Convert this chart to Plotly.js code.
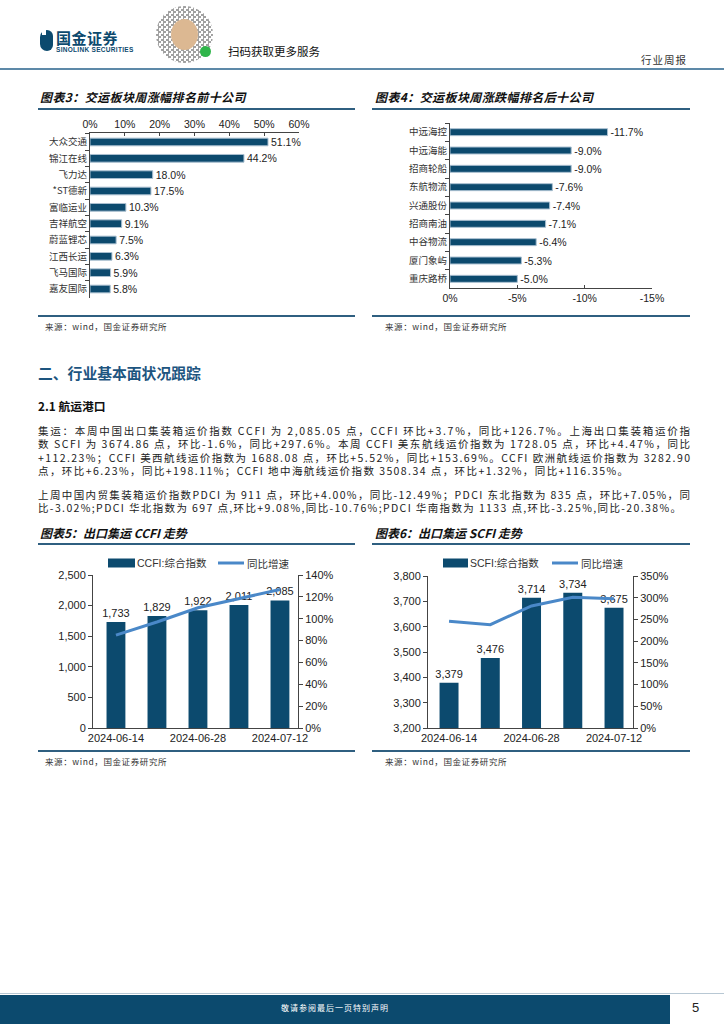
<!DOCTYPE html>
<html lang="zh"><head><meta charset="utf-8">
<script src="https://cdn.plot.ly/plotly-3.0.1.min.js"></script>
<style>
body{margin:0;width:724px;height:1024px;position:relative;background:#fff;font-family:"Noto Sans CJK SC",sans-serif;overflow:hidden;color:#222}
.a{position:absolute;white-space:nowrap}
.ttl{font-size:12px;font-weight:bold;font-style:italic;line-height:14px;color:#111}
.rule{height:1.5px;background:#2f5f80}
.src{font-size:8.5px;color:#333;letter-spacing:0.6px;line-height:10px}
.ln{font-size:10.5px;line-height:13px;left:38px;color:#222}
</style></head><body>

<!-- header -->
<div class="a" style="left:40px;top:30px;width:13px;height:21px;background:#0c4a6e;border-radius:7px 6px 6px 7px"></div>
<div class="a" style="left:42px;top:30px;width:4px;height:5px;background:#fff"></div>
<div class="a" style="left:56px;top:29px;font-size:15px;font-weight:bold;color:#0c4a6e;line-height:18px;letter-spacing:0.5px">国金证券</div>
<div class="a" style="left:56px;top:46px;font-size:6.5px;font-weight:bold;color:#0c4a6e;line-height:8px;font-family:'Liberation Sans';letter-spacing:0.3px">SINOLINK SECURITIES</div>
<div class="a" style="left:156px;top:6px;width:57px;height:57px;border-radius:50%;background:repeating-conic-gradient(#555 0 25%,#fff 0 50%) 0 0/5px 5px;opacity:0.55"></div>
<div class="a" style="left:171px;top:19px;width:27px;height:31px;border-radius:50%;background:#dcb892"></div>
<div class="a" style="left:200px;top:46px;width:11px;height:11px;border-radius:50%;background:#2fb54a"></div>
<div class="a" style="left:228px;top:44px;font-size:11.5px;line-height:14px;color:#111">扫码获取更多服务</div>
<div class="a" style="left:641px;top:53px;font-size:10.5px;line-height:13px;color:#333;letter-spacing:1px">行业周报</div>
<div class="a" style="left:0;top:68px;width:724px;height:1.5px;background:#5d89a8"></div>

<!-- chart 3/4 titles -->
<div class="a ttl" style="left:40px;top:90px;letter-spacing:0.4px">图表3：交运板块周涨幅排名前十公司</div>
<div class="a rule" style="left:38px;top:108px;width:317px"></div>
<div class="a ttl" style="left:375px;top:90px;letter-spacing:0.4px">图表4：交运板块周涨跌幅排名后十公司</div>
<div class="a rule" style="left:372px;top:108px;width:318px"></div>
<div id="c3" class="a" style="left:30px;top:110px"></div>
<div id="c4" class="a" style="left:370px;top:110px"></div>
<div class="a rule" style="left:38px;top:315px;width:317px"></div>
<div class="a rule" style="left:372px;top:315px;width:318px"></div>
<div class="a src" style="left:45px;top:321px">来源：wind，国金证券研究所</div>
<div class="a src" style="left:385px;top:321px">来源：wind，国金证券研究所</div>

<!-- section text -->
<div class="a" style="left:38px;top:364px;font-size:14.8px;font-weight:bold;color:#1d557f;line-height:18px">二、行业基本面状况跟踪</div>
<div class="a" style="left:38px;top:398px;font-size:11.8px;font-weight:bold;color:#111;line-height:16px">2.1 航运港口</div>
<div class="a ln" data-w="652" style="top:423.5px">集运：本周中国出口集装箱运价指数 CCFI 为 2,085.05 点，CCFI 环比+3.7%，同比+126.7%。上海出口集装箱运价指</div>
<div class="a ln" data-w="652" style="top:437px">数 SCFI 为 3674.86 点，环比-1.6%，同比+297.6%。本周 CCFI 美东航线运价指数为 1728.05 点，环比+4.47%，同比</div>
<div class="a ln" data-w="652" style="top:450.5px">+112.23%；CCFI 美西航线运价指数为 1688.08 点，环比+5.52%，同比+153.69%。CCFI 欧洲航线运价指数为 3282.90</div>
<div class="a ln" data-w="590" style="top:464px">点，环比+6.23%，同比+198.11%；CCFI 地中海航线运价指数 3508.34 点，环比+1.32%，同比+116.35%。</div>
<div class="a ln" data-w="652" style="top:487.5px">上周中国内贸集装箱运价指数PDCI 为 911 点，环比+4.00%，同比-12.49%；PDCI 东北指数为 835 点，环比+7.05%，同</div>
<div class="a ln" data-w="643" style="top:501px">比-3.02%;PDCI 华北指数为 697 点,环比+9.08%,同比-10.76%;PDCI 华南指数为 1133 点,环比-3.25%,同比-20.38%。</div>

<!-- chart 5/6 -->
<div class="a ttl" style="left:40px;top:526px">图表5：出口集运 CCFI 走势</div>
<div class="a rule" style="left:38px;top:543px;width:317px"></div>
<div class="a ttl" style="left:375px;top:526px">图表6：出口集运 SCFI 走势</div>
<div class="a rule" style="left:372px;top:543px;width:318px"></div>
<div id="c5" class="a" style="left:30px;top:545px"></div>
<div id="c6" class="a" style="left:370px;top:545px"></div>
<div class="a rule" style="left:38px;top:750px;width:317px"></div>
<div class="a rule" style="left:372px;top:750px;width:318px"></div>
<div class="a src" style="left:45px;top:756px">来源：wind，国金证券研究所</div>
<div class="a src" style="left:385px;top:756px">来源：wind，国金证券研究所</div>

<!-- footer -->
<div class="a" style="left:0;top:993px;width:724px;height:1px;background:#b8c8d4"></div>
<div class="a" style="left:0;top:995px;width:670px;height:29px;background:#0c4a6e"></div>
<div class="a" style="left:0;top:1003px;width:670px;text-align:center;font-size:8px;color:#fff;letter-spacing:1px;line-height:10px">敬请参阅最后一页特别声明</div>
<div class="a" style="left:692px;top:1000px;font-size:13px;color:#222;font-family:'Liberation Sans';line-height:16px">5</div>

<script>
// ---------- data ----------
const topNames = ['大众交通','锦江在线','飞力达','*ST德新','富临运业','吉祥航空','蔚蓝锂芯','江西长运','飞马国际','嘉友国际'];
const topVals = [51.1, 44.2, 18.0, 17.5, 10.3, 9.1, 7.5, 6.3, 5.9, 5.8];
const topTicks = [0, 10, 20, 30, 40, 50, 60];
const botNames = ['中远海控','中远海能','招商轮船','东航物流','兴通股份','招商南油','中谷物流','厦门象屿','重庆路桥'];
const botVals = [-11.7, -9.0, -9.0, -7.6, -7.4, -7.1, -6.4, -5.3, -5.0];
const botTicks = [0, -5, -10, -15];
const dates = ['2024-06-14','2024-06-21','2024-06-28','2024-07-05','2024-07-12'];
const dateTicks = ['2024-06-14','2024-06-28','2024-07-12'];
const ccfi = [1733, 1829, 1922, 2011, 2085];
const ccfiYoy = [0.85, 0.97, 1.10, 1.18, 1.267];
const scfi = [3379, 3476, 3714, 3734, 3675];
const scfiYoy = [2.46, 2.38, 2.81, 3.01, 2.976];
const ccfiTicks = [0, 500, 1000, 1500, 2000, 2500];
const ccfiYoyTicks = [0, 0.2, 0.4, 0.6, 0.8, 1.0, 1.2, 1.4];
const scfiTicks = [3200, 3300, 3400, 3500, 3600, 3700, 3800];
const scfiYoyTicks = [0, 0.5, 1.0, 1.5, 2.0, 2.5, 3.0, 3.5];

// ---------- justify text lines ----------
document.querySelectorAll('.ln').forEach(el => {
  const target = +el.dataset.w;
  const n = el.textContent.length;
  const w = el.getBoundingClientRect().width;
  el.style.letterSpacing = ((target - w) / (n - 1)) + 'px';
});

const BAR = '#0c4a6e', LINE = '#4a88c8', AX = '#444';
const NUMF = 'Liberation Sans, Arial, Noto Sans CJK SC, sans-serif';
const CJK = 'Noto Sans CJK SC, sans-serif';
const cfg = {staticPlot: true, displayModeBar: false};
const pct = v => v.toFixed(1) + '%';
const fmtInt = v => v.toLocaleString('en-US');

// ---------- chart 3 ----------
Plotly.newPlot('c3', [{
  type: 'bar', orientation: 'h', y: topNames, x: topVals,
  marker: {color: BAR, line: {color: '#a9bfd0', width: 1}},
  text: topVals.map(pct), textposition: 'outside', cliponaxis: false, constraintext: 'none',
  textfont: {family: NUMF, size: 10.5, color: '#222'}, hoverinfo: 'none'
}], {
  width: 330, height: 200, margin: {l: 60, r: 61, t: 23, b: 12},
  bargap: 0.53, showlegend: false, paper_bgcolor: 'rgba(0,0,0,0)', plot_bgcolor: 'rgba(0,0,0,0)',
  font: {family: NUMF, size: 10.5, color: '#222'},
  xaxis: {side: 'top', range: [0, 60], tickvals: topTicks, ticktext: topTicks.map(v => v + '%'),
    showline: true, linecolor: AX, ticks: 'inside', ticklen: 3, tickcolor: AX, showgrid: false, zeroline: false},
  yaxis: {type: 'category', range: [9.55, -0.55], showline: true, linecolor: AX, ticks: 'outside',
    tickson: 'boundaries', ticklen: 4, tickcolor: AX, showgrid: false, zeroline: false,
    tickfont: {family: CJK, size: 9.5, color: '#333'}}
}, cfg);

// ---------- chart 4 ----------
Plotly.newPlot('c4', [{
  type: 'bar', orientation: 'h', y: botNames, x: botVals,
  marker: {color: BAR, line: {color: '#a9bfd0', width: 1}},
  text: botVals.map(pct), textposition: 'outside', cliponaxis: false, constraintext: 'none',
  textfont: {family: NUMF, size: 10.5, color: '#222'}, hoverinfo: 'none'
}], {
  width: 330, height: 200, margin: {l: 80, r: 48, t: 13, b: 22},
  bargap: 0.62, showlegend: false, paper_bgcolor: 'rgba(0,0,0,0)', plot_bgcolor: 'rgba(0,0,0,0)',
  font: {family: NUMF, size: 10.5, color: '#222'},
  xaxis: {range: [0, -15], tickvals: botTicks, ticktext: botTicks.map(v => v + '%'),
    showline: true, linecolor: AX, ticks: 'inside', ticklen: 3, tickcolor: AX, showgrid: false, zeroline: false},
  yaxis: {type: 'category', range: [8.5, -0.5], showline: true, linecolor: AX, ticks: 'outside',
    tickson: 'boundaries', ticklen: 4, tickcolor: AX, showgrid: false, zeroline: false,
    tickfont: {family: CJK, size: 9.5, color: '#333'}}
}, cfg);

// ---------- combo charts ----------
function combo(id, g, vals, yoy, barName, yTicks, y2Ticks) {
  const xp = X => (X - g.L - g.l) / g.W;
  const yp = Y => 1 - (Y - g.T - g.t) / g.H;
  Plotly.newPlot(id, [{
    type: 'bar', x: dates, y: vals, marker: {color: BAR},
    text: vals.map(fmtInt), textposition: 'outside', cliponaxis: false, constraintext: 'none',
    textfont: {family: NUMF, size: 11, color: '#222'}, hoverinfo: 'none'
  }, {
    type: 'scatter', mode: 'lines', x: dates, y: yoy, yaxis: 'y2',
    line: {color: LINE, width: 3}, hoverinfo: 'none'
  }], {
    width: 340, height: 215, margin: {l: g.l, r: 340 - g.l - g.W, t: g.t, b: 215 - g.t - g.H},
    bargap: 0.54, showlegend: false, paper_bgcolor: 'rgba(0,0,0,0)', plot_bgcolor: 'rgba(0,0,0,0)',
    font: {family: NUMF, size: 11, color: '#222'},
    xaxis: {type: 'category', range: g.xr, tickvals: dateTicks, ticktext: dateTicks,
      showline: true, linecolor: AX, ticks: '', showgrid: false, zeroline: false},
    yaxis: {range: [yTicks[0], yTicks[yTicks.length - 1]], tickvals: yTicks, ticktext: yTicks.map(fmtInt),
      showline: true, linecolor: AX, ticks: 'outside', ticklen: 4, tickcolor: AX, showgrid: false, zeroline: false},
    yaxis2: {overlaying: 'y', side: 'right', range: [y2Ticks[0], y2Ticks[y2Ticks.length - 1]],
      tickvals: y2Ticks, ticktext: y2Ticks.map(v => Math.round(v * 100) + '%'),
      showline: true, linecolor: AX, ticks: 'outside', ticklen: 4, tickcolor: AX, showgrid: false, zeroline: false},
    shapes: [
      {type: 'rect', xref: 'paper', yref: 'paper', x0: xp(g.lg[0]), x1: xp(g.lg[1]), y0: yp(567.5), y1: yp(558.5),
        fillcolor: BAR, line: {width: 0}},
      {type: 'line', xref: 'paper', yref: 'paper', x0: xp(g.lg[3]), x1: xp(g.lg[4]), y0: yp(563), y1: yp(563),
        line: {color: LINE, width: 3}}
    ],
    annotations: [
      {xref: 'paper', yref: 'paper', x: xp(g.lg[2]), y: yp(563), xanchor: 'left', yanchor: 'middle', showarrow: false,
        text: barName, font: {family: NUMF, size: 10.5, color: '#333'}},
      {xref: 'paper', yref: 'paper', x: xp(g.lg[5]), y: yp(563), xanchor: 'left', yanchor: 'middle', showarrow: false,
        text: '同比增速', font: {family: CJK, size: 10.5, color: '#333'}}
    ]
  }, cfg);
}

combo('c5', {L: 30, T: 545, l: 63, t: 30, W: 205, H: 153, xr: [-0.56, 4.44], lg: [108, 135, 135, 218, 244, 245]},
  ccfi, ccfiYoy, 'CCFI:综合指数', ccfiTicks, ccfiYoyTicks);
combo('c6', {L: 370, T: 545, l: 58, t: 31, W: 205, H: 152, xr: [-0.51, 4.46], lg: [443, 468, 468, 552, 578, 579]},
  scfi, scfiYoy, 'SCFI:综合指数', scfiTicks, scfiYoyTicks);
</script>
</body></html>
